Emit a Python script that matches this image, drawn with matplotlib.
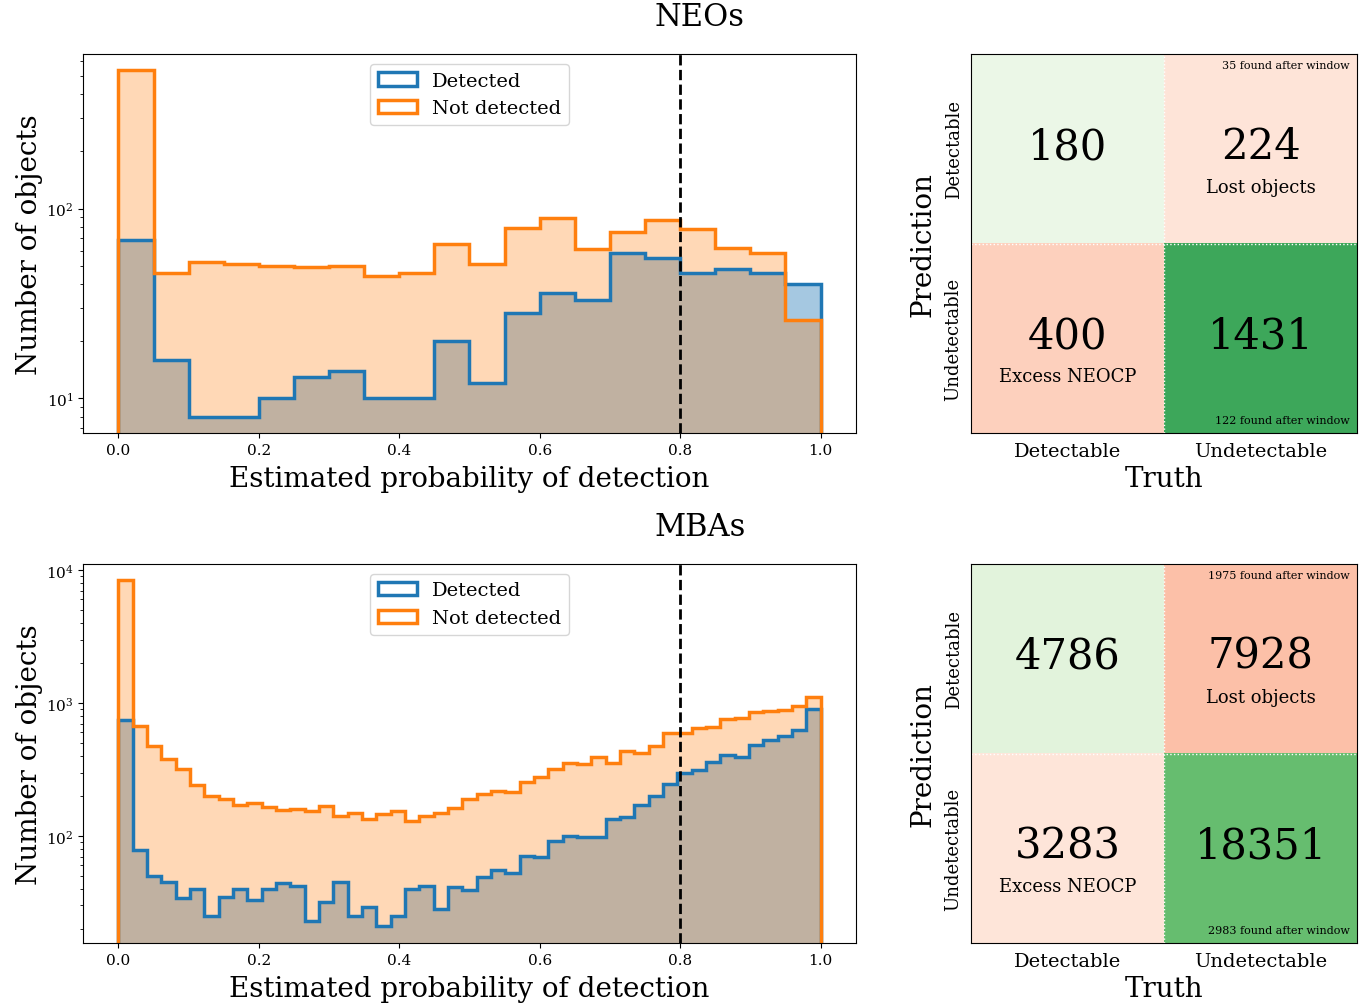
import matplotlib
matplotlib.use("Agg")
import matplotlib.pyplot as plt
import numpy as np

plt.rcParams.update({
    "font.family": "DejaVu Serif",
    "mathtext.fontset": "dejavuserif",
    "xtick.labelsize": 11,
    "ytick.labelsize": 11,
})

BLUE = "#1f77b4"
ORANGE = "#ff7f0e"
THRESHOLD = 0.8

# --- data -------------------------------------------------------
# NEOs: 20 bins over [0, 1]
neo_edges = np.linspace(0, 1, 21)
neo_detected = [68, 16, 8, 8, 10, 13, 14, 10, 10, 20,
                12, 28, 36, 33, 58, 55, 46, 48, 46, 40]
neo_not_detected = [536, 46, 52, 51, 50, 49, 50, 44, 46, 65,
                    51, 79, 89, 61, 75, 87, 78, 62, 58, 26]

# MBAs: 49 bins over [0, 1]
mba_edges = np.linspace(0, 1, 50)
mba_detected = [749, 79, 50, 45, 34, 40, 25, 35, 40, 33,
                40, 44, 42, 23, 32, 45, 25, 29, 21, 25,
                40, 42, 28, 41, 39, 49, 55, 53, 71, 69,
                92, 100, 99, 99, 134, 138, 172, 199, 246, 298,
                315, 362, 409, 391, 486, 527, 568, 630, 901]
mba_not_detected = [8450, 668, 477, 379, 319, 243, 201, 190, 172, 176,
                    166, 157, 160, 153, 167, 141, 148, 134, 146, 155,
                    130, 141, 148, 162, 190, 205, 219, 215, 253, 276,
                    319, 354, 348, 391, 354, 433, 418, 477, 592, 598,
                    649, 664, 758, 771, 851, 875, 880, 954, 1115]

# confusion matrices: rows = prediction, cols = truth
class_labels = ["Detectable", "Undetectable"]
neo_matrix = [[180, 224], [400, 1431]]
mba_matrix = [[4786, 7928], [3283, 18351]]
cell_names = [["", "Lost objects"], ["Excess NEOCP", ""]]
neo_after_window = ["35 found after window", "122 found after window"]
mba_after_window = ["1975 found after window", "2983 found after window"]


def plot_hist(ax, edges, detected, not_detected, ylim):
    centers = 0.5 * (edges[1:] + edges[:-1])
    ax.hist(centers, bins=edges, weights=detected, histtype="stepfilled",
            color=BLUE, alpha=0.4, lw=0, log=True)
    ax.hist(centers, bins=edges, weights=not_detected, histtype="stepfilled",
            color=ORANGE, alpha=0.3, lw=0, log=True)
    ax.hist(centers, bins=edges, weights=detected, histtype="step",
            color=BLUE, lw=2.5, label="Detected", log=True)
    ax.hist(centers, bins=edges, weights=not_detected, histtype="step",
            color=ORANGE, lw=2.5, label="Not detected", log=True)
    ax.axvline(THRESHOLD, color="k", ls="--", lw=2)
    ax.set_ylim(ylim)
    ax.set_xlim(-0.05, 1.05)
    ax.set_xlabel("Estimated probability of detection", fontsize=20, labelpad=6)
    ax.set_ylabel("Number of objects", fontsize=20, labelpad=2)
    ax.legend(loc="upper center", fontsize=14)


def plot_matrix(ax, counts, notes):
    counts = np.array(counts)
    frac = counts / counts.sum()
    rgb = np.zeros((2, 2, 4))
    for i in range(2):
        for j in range(2):
            cmap = plt.cm.Greens if i == j else plt.cm.Reds
            rgb[i, j] = cmap(frac[i, j])
    ax.imshow(rgb, aspect="auto")
    for i in range(2):
        for j in range(2):
            ax.text(j, i - 0.015, str(counts[i, j]), ha="center", va="center",
                    fontsize=30)
            if cell_names[i][j]:
                ax.text(j, i + 0.2, cell_names[i][j], ha="center",
                        va="center", fontsize=13)
    ax.text(1.46, -0.44, notes[0], ha="right", va="center", fontsize=8)
    ax.text(1.46, 1.43, notes[1], ha="right", va="center", fontsize=8)
    ax.axhline(0.5, color="white", ls=":", lw=1)
    ax.axvline(0.5, color="white", ls=":", lw=1)
    ax.set_xticks([0, 1])
    ax.set_xticklabels(class_labels, fontsize=14)
    ax.set_yticks([0, 1])
    ax.set_yticklabels(class_labels, fontsize=13, rotation=90, va="center")
    ax.tick_params(axis="x", length=0, pad=6)
    ax.tick_params(axis="y", length=0, pad=6)
    ax.set_xlabel("Truth", fontsize=20, labelpad=4)
    ax.set_ylabel("Prediction", fontsize=20, labelpad=6)


fig = plt.figure(figsize=(13.72, 10.04), dpi=100)

ax_neo = fig.add_axes([0.0607, 0.5674, 0.563, 0.3778])
ax_neo_cm = fig.add_axes([0.7077, 0.5674, 0.2817, 0.3778])
ax_mba = fig.add_axes([0.0607, 0.0595, 0.563, 0.3778])
ax_mba_cm = fig.add_axes([0.7077, 0.0595, 0.2817, 0.3778])

plot_hist(ax_neo, neo_edges, neo_detected, neo_not_detected, (6.53, 653))
plot_hist(ax_mba, mba_edges, mba_detected, mba_not_detected, (15.6, 11100))
plot_matrix(ax_neo_cm, neo_matrix, neo_after_window)
plot_matrix(ax_mba_cm, mba_matrix, mba_after_window)

fig.text(700 / 1372, 1 - 18 / 1004, "NEOs", ha="center", va="center", fontsize=22)
fig.text(700 / 1372, 1 - 528 / 1004, "MBAs", ha="center", va="center", fontsize=22)

fig.savefig("out.png", dpi=100)
